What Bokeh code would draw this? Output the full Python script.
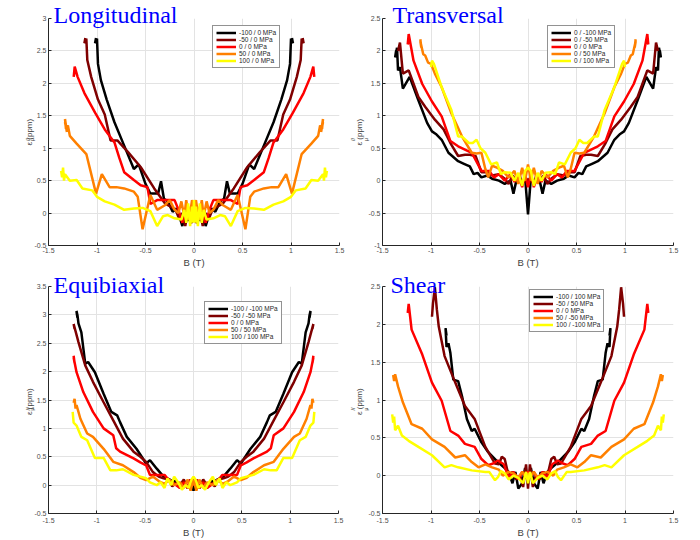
from bokeh.plotting import figure
from bokeh.layouts import column, row
from bokeh.models import Legend, LegendItem, FixedTicker, Range1d, Title
from bokeh.embed import file_html
from bokeh.resources import INLINE

# ---------------- data ----------------
COLORS = ["#000000", "#7f0000", "#ff0000", "#ff8000", "#ffff00"]

X_TICKS = [-1.5, -1, -0.5, 0, 0.5, 1, 1.5]
X_TICK_LABELS = ["-1.5", "-1", "-0.5", "0", "0.5", "1", "1.5"]

# ---- Longitudinal ----
LONG_LABELS = ["-100 / 0 MPa", "-50 / 0 MPa", "0 / 0 MPa", "50 / 0 MPa", "100 / 0 MPa"]
LONG_Y_TICKS = [-0.5, 0, 0.5, 1, 1.5, 2, 2.5, 3]
LONG_Y_TICK_LABELS = ["-0.5", "0", "0.5", "1", "1.5", "2", "2.5", "3"]
LONG_K_B = [-1.01, -1.02, -1.0, -0.99, -0.96, -0.9, -0.82, -0.72, -0.62, -0.57, -0.5, -0.45, -0.37, -0.34, -0.31, -0.27, -0.22, -0.18, -0.15, -0.12, -0.09, -0.06, -0.03,
            0.0, 0.03, 0.06, 0.09, 0.12, 0.15, 0.18, 0.22, 0.27, 0.31, 0.34, 0.37, 0.45, 0.5, 0.57, 0.62, 0.72, 0.82, 0.9, 0.96, 0.99, 1.0, 1.02, 1.01]
LONG_K_E = [2.7, 2.62, 2.69, 2.3, 2.05, 1.75, 1.4, 1.04, 0.68, 0.75, 0.45, 0.3, 0.3, 0.49, 0.22, 0.18, 0.02, 0.07, -0.05, -0.2, 0.02, -0.12, 0.08,
            -0.05, 0.08, -0.12, 0.02, -0.2, -0.05, 0.07, 0.02, 0.18, 0.22, 0.49, 0.3, 0.3, 0.45, 0.75, 0.68, 1.04, 1.4, 1.75, 2.05, 2.3, 2.69, 2.62, 2.7]
LONG_DR_B = [-1.12, -1.13, -1.11, -1.1, -1.06, -0.99, -0.92, -0.86, -0.79, -0.68, -0.55, -0.41, -0.3, -0.24, -0.19, -0.15, -0.12, -0.09, -0.06, -0.03,
             0.0, 0.03, 0.06, 0.09, 0.12, 0.15, 0.19, 0.24, 0.3, 0.41, 0.55, 0.68, 0.79, 0.86, 0.92, 0.99, 1.06, 1.1, 1.11, 1.13, 1.12]
LONG_DR_E = [2.7, 2.62, 2.69, 2.36, 2.1, 1.75, 1.52, 1.12, 1.12, 0.94, 0.71, 0.38, 0.15, 0.1, 0.05, -0.1, 0.0, -0.2, 0.05, -0.15,
             -0.1, -0.15, 0.05, -0.2, 0.0, -0.1, 0.05, 0.1, 0.15, 0.38, 0.71, 0.94, 1.12, 1.12, 1.52, 1.75, 2.1, 2.36, 2.69, 2.62, 2.7]
LONG_R_B = [-1.23, -1.24, -1.23, -1.2, -1.13, -1.02, -0.92, -0.82, -0.77, -0.72, -0.62, -0.55, -0.48, -0.45, -0.38, -0.3, -0.2, -0.16, -0.12, -0.09, -0.06, -0.03,
            0.0, 0.03, 0.06, 0.09, 0.12, 0.16, 0.2, 0.3, 0.38, 0.45, 0.48, 0.55, 0.62, 0.72, 0.77, 0.82, 0.92, 1.02, 1.13, 1.2, 1.23, 1.24, 1.23]
LONG_R_E = [2.2, 2.1, 2.26, 2.1, 1.85, 1.55, 1.29, 1.09, 0.85, 0.63, 0.51, 0.43, 0.4, 0.14, 0.2, 0.2, 0.2, 0.05, -0.15, 0.05, -0.1, 0.1,
            0.0, 0.1, -0.1, 0.05, -0.15, 0.05, 0.2, 0.2, 0.2, 0.14, 0.4, 0.43, 0.51, 0.63, 0.85, 1.09, 1.29, 1.55, 1.85, 2.1, 2.26, 2.1, 2.2]
LONG_O_B = [-1.33, -1.31, -1.33, -1.32, -1.3, -1.28, -1.21, -1.11, -1.01, -0.95, -0.87, -0.8, -0.72, -0.62, -0.58, -0.53, -0.45, -0.38, -0.3, -0.25, -0.2, -0.16, -0.13, -0.1, -0.08, -0.05, -0.02,
            0.0, 0.02, 0.05, 0.08, 0.1, 0.13, 0.16, 0.2, 0.25, 0.3, 0.38, 0.45, 0.53, 0.58, 0.62, 0.72, 0.8, 0.87, 0.95, 1.01, 1.11, 1.21, 1.28, 1.3, 1.32, 1.33, 1.31, 1.33]
LONG_O_E = [1.4, 1.25, 1.45, 1.3, 1.35, 1.19, 1.07, 0.91, 0.3, 0.6, 0.4, 0.4, 0.38, 0.33, 0.25, -0.25, 0.28, 0.05, 0.12, 0.2, 0.05, 0.0, 0.18, -0.05, 0.2, -0.1, 0.2,
            0.1, 0.2, -0.1, 0.2, -0.05, 0.18, 0.0, 0.05, 0.2, 0.12, 0.05, 0.28, -0.25, 0.25, 0.33, 0.38, 0.4, 0.4, 0.6, 0.3, 0.91, 1.07, 1.19, 1.35, 1.3, 1.45, 1.25, 1.4]
LONG_Y_B = [-1.37, -1.36, -1.35, -1.34, -1.33, -1.28, -1.21, -1.15, -1.05, -1.0, -0.92, -0.82, -0.72, -0.62, -0.53, -0.45, -0.38, -0.32, -0.27, -0.2, -0.13, -0.1, -0.08, -0.06, -0.04, -0.02, -0.01,
            0.0, 0.01, 0.02, 0.04, 0.06, 0.08, 0.1, 0.13, 0.2, 0.27, 0.32, 0.38, 0.45, 0.53, 0.62, 0.72, 0.82, 0.92, 1.0, 1.05, 1.15, 1.21, 1.28, 1.33, 1.34, 1.35, 1.36, 1.37]
LONG_Y_E = [0.65, 0.55, 0.7, 0.5, 0.6, 0.5, 0.51, 0.38, 0.35, 0.25, 0.18, 0.13, 0.05, 0.07, 0.08, 0.03, -0.2, -0.05, -0.03, -0.08, -0.1, 0.05, -0.15, 0.15, -0.2, 0.1, -0.15,
            0.2, -0.15, 0.1, -0.2, 0.15, -0.15, 0.05, -0.1, -0.08, -0.03, -0.05, -0.2, 0.03, 0.08, 0.07, 0.05, 0.13, 0.18, 0.25, 0.35, 0.38, 0.51, 0.5, 0.6, 0.5, 0.7, 0.55, 0.65]

# ---- Transversal ----
TRANS_LABELS = ["0 / -100 MPa", "0 / -50 MPa", "0 / 0 MPa", "0 / 50 MPa", "0 / 100 MPa"]
TRANS_Y_TICKS = [-1, -0.5, 0, 0.5, 1, 1.5, 2, 2.5]
TRANS_Y_TICK_LABELS = ["-1", "-0.5", "0", "0.5", "1", "1.5", "2", "2.5"]
TRANS_K_B = [-1.36, -1.37, -1.35, -1.34, -1.32, -1.29, -1.22, -1.13, -1.04, -0.99, -0.95, -0.89, -0.82, -0.72, -0.66, -0.6, -0.56, -0.52, -0.48, -0.42, -0.37, -0.3, -0.24, -0.18, -0.15, -0.12, -0.09, -0.06, -0.03,
             0.0, 0.03, 0.06, 0.09, 0.12, 0.15, 0.18, 0.24, 0.3, 0.37, 0.42, 0.48, 0.52, 0.56, 0.6, 0.66, 0.72, 0.82, 0.89, 0.95, 0.99, 1.04, 1.13, 1.22, 1.29, 1.32, 1.34, 1.35, 1.37, 1.36]
TRANS_K_E = [2.0, 1.9, 2.05, 1.7, 1.75, 1.42, 1.6, 1.24, 0.89, 0.76, 0.72, 0.63, 0.43, 0.3, 0.26, 0.22, 0.1, 0.12, 0.05, 0.08, 0.03, 0.0, -0.05, 0.0, -0.2, 0.0, 0.05, -0.05, 0.05,
             -0.52, 0.05, -0.05, 0.05, 0.0, -0.2, 0.0, -0.05, 0.0, 0.03, 0.08, 0.05, 0.12, 0.1, 0.22, 0.26, 0.3, 0.43, 0.63, 0.72, 0.76, 0.89, 1.24, 1.6, 1.42, 1.75, 1.7, 2.05, 1.9, 2.0]
TRANS_DR_B = [-1.33, -1.34, -1.32, -1.29, -1.23, -1.13, -1.06, -0.96, -0.87, -0.8, -0.72, -0.65, -0.6, -0.54, -0.48, -0.43, -0.37, -0.3, -0.24, -0.2, -0.16, -0.12, -0.09, -0.06, -0.03,
              0.0, 0.03, 0.06, 0.09, 0.12, 0.16, 0.2, 0.24, 0.3, 0.37, 0.43, 0.48, 0.54, 0.6, 0.65, 0.72, 0.8, 0.87, 0.96, 1.06, 1.13, 1.23, 1.29, 1.32, 1.34, 1.33]
TRANS_DR_E = [2.05, 2.0, 2.13, 1.65, 1.7, 1.29, 1.14, 0.94, 0.79, 0.58, 0.38, 0.4, 0.4, 0.38, 0.13, 0.13, 0.08, 0.1, 0.03, -0.05, 0.08, 0.0, 0.1, -0.05, 0.05,
              0.0, 0.05, -0.05, 0.1, 0.0, 0.08, -0.05, 0.03, 0.1, 0.08, 0.13, 0.13, 0.38, 0.4, 0.4, 0.38, 0.58, 0.79, 0.94, 1.14, 1.29, 1.7, 1.65, 2.13, 2.0, 2.05]
TRANS_R_B = [-1.22, -1.24, -1.23, -1.18, -1.09, -0.99, -0.89, -0.8, -0.72, -0.65, -0.58, -0.48, -0.4, -0.35, -0.3, -0.24, -0.18, -0.14, -0.1, -0.06, -0.03,
             0.0, 0.03, 0.06, 0.1, 0.14, 0.18, 0.24, 0.3, 0.35, 0.4, 0.48, 0.58, 0.65, 0.72, 0.8, 0.89, 0.99, 1.09, 1.18, 1.23, 1.24, 1.22]
TRANS_R_E = [2.2, 2.1, 2.26, 1.85, 1.49, 1.22, 0.99, 0.61, 0.53, 0.48, 0.43, 0.15, 0.15, 0.05, 0.1, 0.0, 0.1, -0.02, 0.08, -0.1, 0.1,
             -0.1, 0.1, -0.1, 0.08, -0.02, 0.1, 0.0, 0.1, 0.05, 0.15, 0.15, 0.43, 0.48, 0.53, 0.61, 0.99, 1.22, 1.49, 1.85, 2.26, 2.1, 2.2]
TRANS_O_B = [-1.11, -1.1, -1.11, -1.08, -1.06, -1.03, -1.0, -0.96, -0.89, -0.79, -0.68, -0.58, -0.53, -0.48, -0.44, -0.41, -0.37, -0.32, -0.26, -0.2, -0.14, -0.1, -0.06, -0.03,
             0.0, 0.03, 0.06, 0.1, 0.14, 0.2, 0.26, 0.32, 0.37, 0.41, 0.44, 0.48, 0.53, 0.58, 0.68, 0.79, 0.89, 0.96, 1.0, 1.03, 1.06, 1.08, 1.11, 1.1, 1.11]
TRANS_O_E = [2.18, 2.05, 2.15, 1.95, 1.93, 1.82, 1.8, 1.65, 1.44, 1.04, 0.68, 0.43, 0.42, 0.43, 0.18, 0.05, 0.23, 0.2, 0.15, 0.05, 0.15, -0.05, 0.2, 0.0,
             0.25, 0.0, 0.2, -0.05, 0.15, 0.05, 0.15, 0.2, 0.23, 0.05, 0.18, 0.43, 0.42, 0.43, 0.68, 1.04, 1.44, 1.65, 1.8, 1.82, 1.93, 1.95, 2.15, 2.05, 2.18]
TRANS_Y_B = [-1.0, -0.99, -0.97, -0.89, -0.79, -0.72, -0.68, -0.61, -0.57, -0.53, -0.49, -0.44, -0.38, -0.32, -0.28, -0.24, -0.18, -0.14, -0.1, -0.06, -0.03,
             0.0, 0.03, 0.06, 0.1, 0.14, 0.18, 0.24, 0.28, 0.32, 0.38, 0.44, 0.49, 0.53, 0.57, 0.61, 0.68, 0.72, 0.79, 0.89, 0.97, 0.99, 1.0]
TRANS_Y_E = [1.75, 1.85, 1.8, 1.44, 1.09, 0.68, 0.68, 0.58, 0.58, 0.63, 0.5, 0.43, 0.25, 0.28, 0.1, 0.13, 0.12, 0.0, 0.12, -0.08, 0.15,
             0.2, 0.15, -0.08, 0.12, 0.0, 0.12, 0.13, 0.1, 0.28, 0.25, 0.43, 0.5, 0.63, 0.58, 0.58, 0.68, 0.68, 1.09, 1.44, 1.8, 1.85, 1.75]

# ---- Equibiaxial ----
EQUI_LABELS = ["-100 / -100 MPa", "-50 / -50 MPa", "0 / 0 MPa", "50 / 50 MPa", "100 / 100 MPa"]
EQUI_Y_TICKS = [-0.5, 0, 0.5, 1, 1.5, 2, 2.5, 3, 3.5]
EQUI_Y_TICK_LABELS = ["-0.5", "0", "0.5", "1", "1.5", "2", "2.5", "3", "3.5"]
EQUI_K_B = [-1.21, -1.2, -1.21, -1.2, -1.19, -1.16, -1.12, -1.09, -1.02, -0.93, -0.85, -0.79, -0.76, -0.69, -0.59, -0.49, -0.45, -0.38, -0.31, -0.25, -0.21, -0.18, -0.14, -0.1, -0.06, -0.03,
            0.0, 0.03, 0.06, 0.1, 0.14, 0.18, 0.21, 0.25, 0.31, 0.38, 0.45, 0.49, 0.59, 0.69, 0.76, 0.79, 0.85, 0.93, 1.02, 1.09, 1.12, 1.16, 1.19, 1.2, 1.21, 1.2, 1.21]
EQUI_K_E = [3.05, 2.95, 3.07, 2.99, 2.85, 2.69, 2.14, 2.17, 1.99, 1.61, 1.29, 1.23, 1.11, 0.85, 0.64, 0.38, 0.44, 0.29, 0.15, 0.1, 0.06, 0.08, -0.05, 0.05, -0.05, 0.1,
            -0.1, 0.1, -0.05, 0.05, -0.05, 0.08, 0.06, 0.1, 0.15, 0.29, 0.44, 0.38, 0.64, 0.85, 1.11, 1.23, 1.29, 1.61, 1.99, 2.17, 2.14, 2.69, 2.85, 2.99, 3.07, 2.95, 3.05]
EQUI_DR_B = [-1.23, -1.24, -1.19, -1.12, -1.04, -0.93, -0.83, -0.73, -0.62, -0.55, -0.49, -0.42, -0.36, -0.31, -0.26, -0.22, -0.18, -0.14, -0.1, -0.06, -0.03,
             0.0, 0.03, 0.06, 0.1, 0.14, 0.18, 0.22, 0.26, 0.31, 0.36, 0.42, 0.49, 0.55, 0.62, 0.73, 0.83, 0.93, 1.04, 1.12, 1.19, 1.24, 1.23]
EQUI_DR_E = [2.75, 2.84, 2.52, 2.11, 1.82, 1.46, 1.14, 0.82, 0.59, 0.5, 0.41, 0.23, 0.15, 0.12, 0.1, -0.02, 0.05, 0.0, 0.1, -0.05, 0.05,
             0.1, 0.05, -0.05, 0.1, 0.0, 0.05, -0.02, 0.1, 0.12, 0.15, 0.23, 0.41, 0.5, 0.59, 0.82, 1.14, 1.46, 1.82, 2.11, 2.52, 2.84, 2.75]
EQUI_R_B = [-1.24, -1.23, -1.24, -1.21, -1.14, -1.04, -0.93, -0.83, -0.8, -0.76, -0.62, -0.55, -0.49, -0.45, -0.35, -0.3, -0.26, -0.21, -0.18, -0.14, -0.1, -0.06, -0.03,
            0.0, 0.03, 0.06, 0.1, 0.14, 0.18, 0.21, 0.26, 0.3, 0.35, 0.45, 0.49, 0.55, 0.62, 0.76, 0.8, 0.83, 0.93, 1.04, 1.14, 1.21, 1.24, 1.23, 1.24]
EQUI_R_E = [2.28, 2.15, 2.25, 1.99, 1.64, 1.29, 1.0, 0.88, 0.65, 0.59, 0.47, 0.4, 0.35, 0.18, 0.18, 0.18, 0.1, 0.03, 0.0, -0.05, 0.05, -0.05, 0.1,
            0.0, 0.1, -0.05, 0.05, -0.05, 0.0, 0.03, 0.1, 0.18, 0.18, 0.18, 0.35, 0.4, 0.47, 0.59, 0.65, 0.88, 1.0, 1.29, 1.64, 1.99, 2.25, 2.15, 2.28]
EQUI_O_B = [-1.24, -1.23, -1.22, -1.21, -1.17, -1.1, -1.04, -0.93, -0.83, -0.73, -0.62, -0.55, -0.49, -0.42, -0.35, -0.3, -0.25, -0.2, -0.14, -0.1, -0.06, -0.03,
            0.0, 0.03, 0.06, 0.1, 0.14, 0.2, 0.25, 0.3, 0.35, 0.42, 0.49, 0.55, 0.62, 0.73, 0.83, 0.93, 1.04, 1.1, 1.17, 1.21, 1.22, 1.23, 1.24]
EQUI_O_E = [1.45, 1.52, 1.35, 1.41, 1.17, 0.91, 0.85, 0.64, 0.41, 0.35, 0.23, 0.13, 0.09, 0.15, 0.06, 0.02, 0.1, 0.0, 0.05, -0.05, 0.1, -0.1,
            0.1, -0.1, 0.1, -0.05, 0.05, 0.0, 0.1, 0.02, 0.06, 0.15, 0.09, 0.13, 0.23, 0.35, 0.41, 0.64, 0.85, 0.91, 1.17, 1.41, 1.35, 1.52, 1.45]
EQUI_Y_B = [-1.25, -1.24, -1.21, -1.16, -1.1, -1.02, -0.93, -0.86, -0.8, -0.73, -0.62, -0.55, -0.49, -0.45, -0.38, -0.34, -0.3, -0.27, -0.23, -0.2, -0.16, -0.12, -0.08, -0.05, -0.02,
            0.0, 0.02, 0.05, 0.08, 0.12, 0.16, 0.2, 0.23, 0.27, 0.3, 0.34, 0.38, 0.45, 0.49, 0.55, 0.62, 0.73, 0.8, 0.86, 0.93, 1.02, 1.1, 1.16, 1.21, 1.24, 1.25]
EQUI_Y_E = [1.29, 1.1, 1.05, 0.85, 0.79, 0.48, 0.48, 0.26, 0.26, 0.28, 0.18, 0.15, 0.12, 0.05, 0.0, 0.05, -0.05, 0.12, 0.0, 0.15, 0.05, -0.08, 0.0, -0.05, 0.1,
            0.15, 0.1, -0.05, 0.0, -0.08, 0.05, 0.15, 0.0, 0.12, -0.05, 0.05, 0.0, 0.05, 0.12, 0.15, 0.18, 0.28, 0.26, 0.26, 0.48, 0.48, 0.79, 0.85, 1.05, 1.1, 1.29]

# ---- Shear ----
SHEAR_LABELS = ["-100 / 100 MPa", "-50 / 50 MPa", "0 / 0 MPa", "50 / -50 MPa", "100 / -100 MPa"]
SHEAR_Y_TICKS = [-0.5, 0, 0.5, 1, 1.5, 2, 2.5]
SHEAR_Y_TICK_LABELS = ["-0.5", "0", "0.5", "1", "1.5", "2", "2.5"]
SHEAR_K_B = [-0.84, -0.85, -0.84, -0.82, -0.8, -0.77, -0.72, -0.68, -0.63, -0.58, -0.55, -0.48, -0.41, -0.31, -0.24, -0.2, -0.16, -0.13, -0.1, -0.06, -0.03,
             0.0, 0.03, 0.06, 0.1, 0.13, 0.16, 0.2, 0.24, 0.31, 0.41, 0.48, 0.55, 0.58, 0.63, 0.68, 0.72, 0.77, 0.8, 0.82, 0.84, 0.85, 0.84]
SHEAR_K_E = [1.85, 1.95, 1.7, 1.75, 1.62, 1.27, 1.25, 1.05, 0.75, 0.59, 0.62, 0.44, 0.31, 0.18, 0.1, 0.05, -0.1, 0.05, -0.17, -0.1, 0.1,
             -0.1, 0.1, -0.1, -0.17, 0.05, -0.1, 0.05, 0.1, 0.18, 0.31, 0.44, 0.62, 0.59, 0.75, 1.05, 1.25, 1.27, 1.62, 1.75, 1.7, 1.95, 1.85]
SHEAR_DR_B = [-0.99, -0.98, -0.96, -0.94, -0.92, -0.86, -0.75, -0.65, -0.55, -0.44, -0.34, -0.3, -0.27, -0.24, -0.2, -0.16, -0.12, -0.08, -0.05, -0.02,
              0.0, 0.02, 0.05, 0.08, 0.12, 0.16, 0.2, 0.24, 0.27, 0.3, 0.34, 0.44, 0.55, 0.65, 0.75, 0.86, 0.92, 0.94, 0.96, 0.98, 0.99]
SHEAR_DR_E = [2.1, 2.27, 2.49, 2.2, 1.97, 1.58, 1.23, 0.92, 0.75, 0.38, 0.16, 0.15, 0.25, 0.22, 0.0, 0.05, -0.05, 0.0, -0.15, 0.15,
              -0.17, 0.15, -0.15, 0.0, -0.05, 0.05, 0.0, 0.22, 0.25, 0.15, 0.16, 0.38, 0.75, 0.92, 1.23, 1.58, 1.97, 2.2, 2.49, 2.27, 2.1]
SHEAR_R_B = [-1.23, -1.24, -1.23, -1.2, -1.09, -0.99, -0.89, -0.8, -0.72, -0.65, -0.55, -0.48, -0.41, -0.36, -0.31, -0.25, -0.2, -0.15, -0.1, -0.06, -0.03,
             0.0, 0.03, 0.06, 0.1, 0.15, 0.2, 0.25, 0.31, 0.36, 0.41, 0.48, 0.55, 0.65, 0.72, 0.8, 0.89, 0.99, 1.09, 1.2, 1.23, 1.24, 1.23]
SHEAR_R_E = [2.22, 2.15, 2.27, 1.93, 1.6, 1.23, 0.99, 0.59, 0.53, 0.42, 0.38, 0.22, 0.14, 0.16, 0.2, 0.15, -0.02, 0.05, -0.05, 0.05, 0.0,
             0.05, 0.0, 0.05, -0.05, 0.05, -0.02, 0.15, 0.2, 0.16, 0.14, 0.22, 0.38, 0.42, 0.53, 0.59, 0.99, 1.23, 1.6, 1.93, 2.27, 2.15, 2.22]
SHEAR_O_B = [-1.39, -1.38, -1.37, -1.34, -1.29, -1.2, -1.09, -0.99, -0.86, -0.75, -0.65, -0.58, -0.51, -0.44, -0.37, -0.3, -0.26, -0.2, -0.15, -0.1, -0.06, -0.03,
             0.0, 0.03, 0.06, 0.1, 0.15, 0.2, 0.26, 0.3, 0.37, 0.44, 0.51, 0.58, 0.65, 0.75, 0.86, 0.99, 1.09, 1.2, 1.29, 1.34, 1.37, 1.38, 1.39]
SHEAR_O_E = [1.33, 1.25, 1.34, 1.18, 0.97, 0.68, 0.62, 0.48, 0.38, 0.24, 0.27, 0.18, 0.11, 0.15, 0.11, 0.08, 0.0, 0.05, 0.03, -0.02, 0.05, 0.0,
             0.02, 0.0, 0.05, -0.02, 0.03, 0.05, 0.0, 0.08, 0.11, 0.15, 0.11, 0.18, 0.27, 0.24, 0.38, 0.48, 0.62, 0.68, 0.97, 1.18, 1.34, 1.25, 1.33]
SHEAR_Y_B = [-1.4, -1.39, -1.38, -1.37, -1.34, -1.3, -1.23, -1.13, -0.99, -0.86, -0.79, -0.72, -0.58, -0.44, -0.4, -0.34, -0.31, -0.28, -0.24, -0.2, -0.15, -0.1, -0.05, -0.02,
             0.0, 0.02, 0.05, 0.1, 0.15, 0.2, 0.24, 0.28, 0.31, 0.34, 0.4, 0.44, 0.58, 0.72, 0.79, 0.86, 0.99, 1.13, 1.23, 1.3, 1.34, 1.37, 1.38, 1.39, 1.4]
SHEAR_Y_E = [0.81, 0.7, 0.78, 0.6, 0.66, 0.53, 0.46, 0.38, 0.27, 0.11, 0.14, 0.11, 0.07, 0.05, 0.05, -0.06, -0.02, 0.06, 0.03, -0.05, 0.0, -0.03, -0.1, 0.05,
             -0.1, 0.05, -0.1, -0.03, 0.0, -0.05, 0.03, 0.06, -0.02, -0.06, 0.05, 0.05, 0.07, 0.11, 0.14, 0.11, 0.27, 0.38, 0.46, 0.53, 0.66, 0.6, 0.78, 0.7, 0.81]

# ---------------- drawing ----------------
SANS = "Liberation Sans"
SERIF = "Liberation Serif"
LABEL_GREY = "#404040"


def side_title(text, size, offset, standoff):
    return Title(text=text, align="left", vertical_align="middle", offset=offset,
                 standoff=standoff, text_font=SANS, text_font_size=size,
                 text_font_style="normal", text_color=LABEL_GREY)


def make_panel(title, labels, series, y_range, y_ticks, y_tick_labels, geom,
               title_off, title_standoff, ylab_standoff, x_standoffs, legend_loc):
    W, H, bl, br, bt, bb = geom
    fh = H - bt - bb
    y0, y1 = y_range

    p = figure(width=W, height=H, x_range=Range1d(-1.5, 1.5), y_range=Range1d(y0, y1),
               output_backend="svg", toolbar_location=None, tools="",
               min_border_left=bl, min_border_right=br, min_border_top=bt, min_border_bottom=bb)
    p.background_fill_color = "white"
    p.border_fill_color = "white"
    p.outline_line_color = None

    # big blue panel title, reaching down over the top of the frame
    p.title.text = title
    p.title.align = "left"
    p.title.vertical_align = "bottom"
    p.title.offset = title_off
    p.title.standoff = title_standoff
    p.title.text_font = SERIF
    p.title.text_font_size = "24px"
    p.title.text_font_style = "normal"
    p.title.text_color = "#0000ff"

    p.xaxis.ticker = FixedTicker(ticks=X_TICKS)
    p.xaxis.major_label_overrides = dict(zip(X_TICKS, X_TICK_LABELS))
    p.yaxis.ticker = FixedTicker(ticks=y_ticks)
    p.yaxis.major_label_overrides = dict(zip(y_ticks, y_tick_labels))
    for ax in (p.xaxis, p.yaxis):
        ax.axis_line_color = "#262626"
        ax.axis_line_width = 1
        ax.major_tick_in = 3
        ax.major_tick_out = 0
        ax.major_tick_line_color = "#262626"
        ax.minor_tick_line_color = None
        ax.major_label_text_font = SANS
        ax.major_label_text_font_size = "7px"
        ax.major_label_text_color = "#4d4d4d"
    p.xaxis.major_label_standoff = x_standoffs[0]
    p.yaxis.major_label_standoff = 2
    p.xaxis.axis_label = "B (T)"
    p.xaxis.axis_label_text_font = SANS
    p.xaxis.axis_label_text_font_size = "9.5px"
    p.xaxis.axis_label_text_font_style = "normal"
    p.xaxis.axis_label_text_color = LABEL_GREY
    p.xaxis.axis_label_standoff = x_standoffs[1]
    p.grid.grid_line_color = "#e3e3e3"
    p.grid.grid_line_width = 1

    items = []
    for (bx, ey), col, lab in zip(series, COLORS, labels):
        assert len(bx) == len(ey), lab
        r = p.line(bx, ey, line_color=col, line_width=2.5)
        items.append(LegendItem(label=lab, renderers=[r]))

    leg = Legend(items=items, location=legend_loc)
    leg.label_text_font = SANS
    leg.label_text_font_size = "6.5px"
    leg.label_text_color = "#262626"
    leg.glyph_width = 20
    leg.glyph_height = 7
    leg.label_height = 7
    leg.label_standoff = 3
    leg.spacing = 0
    leg.padding = 3
    leg.margin = 0
    leg.border_line_color = "#262626"
    leg.border_line_width = 1
    leg.background_fill_color = "white"
    leg.background_fill_alpha = 1.0
    p.add_layout(leg)

    # y label  ε^{//}_{μ} (ppm), built from side titles (outward from the axis)
    off = fh / 2.0 - 15
    p.add_layout(side_title("μ", "5px", off + 4.5, -7.8), "left")
    p.add_layout(side_title("ε  (ppm)", "8px", off, ylab_standoff), "left")
    p.add_layout(side_title("//", "5px", off + 4.5, -7.8), "left")
    return p


TOP = (2, 1)      # x tick-label / axis-label standoffs, top row
BOTTOM = (4, 1)   # bottom row

p1 = make_panel("Longitudinal", LONG_LABELS,
                [(LONG_K_B, LONG_K_E), (LONG_DR_B, LONG_DR_E), (LONG_R_B, LONG_R_E),
                 (LONG_O_B, LONG_O_E), (LONG_Y_B, LONG_Y_E)],
                (-0.5, 3), LONG_Y_TICKS, LONG_Y_TICK_LABELS,
                (350, 270, 48, 11, 18, 22), 5, -18.4, -7, TOP, (164, 177))
p2 = make_panel("Transversal", TRANS_LABELS,
                [(TRANS_K_B, TRANS_K_E), (TRANS_DR_B, TRANS_DR_E), (TRANS_R_B, TRANS_R_E),
                 (TRANS_O_B, TRANS_O_E), (TRANS_Y_B, TRANS_Y_E)],
                (-1, 2.5), TRANS_Y_TICKS, TRANS_Y_TICK_LABELS,
                (350, 270, 32, 27, 18, 22), 10, -18.4, 2, TOP, (165, 177))
p3 = make_panel("Equibiaxial", EQUI_LABELS,
                [(EQUI_K_B, EQUI_K_E), (EQUI_DR_B, EQUI_DR_E), (EQUI_R_B, EQUI_R_E),
                 (EQUI_O_B, EQUI_O_E), (EQUI_Y_B, EQUI_Y_E)],
                (-0.5, 3.5), EQUI_Y_TICKS, EQUI_Y_TICK_LABELS,
                (350, 270, 48, 12, 16, 27), 5, -22.4, -7, BOTTOM, (156, 169))
p4 = make_panel("Shear", SHEAR_LABELS,
                [(SHEAR_K_B, SHEAR_K_E), (SHEAR_DR_B, SHEAR_DR_E), (SHEAR_R_B, SHEAR_R_E),
                 (SHEAR_O_B, SHEAR_O_E), (SHEAR_Y_B, SHEAR_Y_E)],
                (-0.5, 2.5), SHEAR_Y_TICKS, SHEAR_Y_TICK_LABELS,
                (350, 270, 32, 27, 16, 27), 8, -22.4, 2, BOTTOM, (147, 181))

layout = column(row(p1, p2), row(p3, p4))
open("out.html", "w").write(file_html(layout, INLINE))
